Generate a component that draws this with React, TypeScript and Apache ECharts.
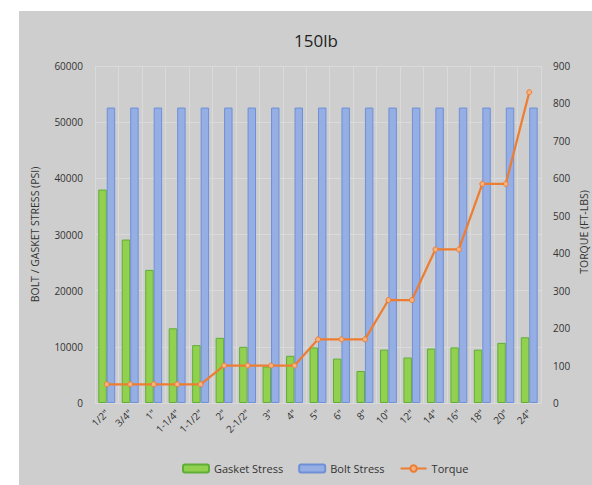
import React, { useEffect, useRef } from "react";
import * as echarts from "echarts";

const categories = ['1/2"', '3/4"', '1"', '1-1/4"', '1-1/2"', '2"', '2-1/2"', '3"', '4"', '5"', '6"', '8"', '10"', '12"', '14"', '16"', '18"', '20"', '24"'];
const gasketStress = [38000, 29100, 23700, 13300, 10300, 11600, 10000, 6500, 8400, 9900, 7900, 5700, 9500, 8100, 9700, 9900, 9500, 10700, 11700];
const boltStress = [52600, 52600, 52600, 52600, 52600, 52600, 52600, 52600, 52600, 52600, 52600, 52600, 52600, 52600, 52600, 52600, 52600, 52600, 52600];
const torque = [50, 50, 50, 50, 50, 100, 100, 100, 100, 170, 170, 170, 275, 275, 410, 410, 585, 585, 830];

const FONT = "'Open Sans', 'Noto Sans', sans-serif";
const TEXT = "#333333";

export default function App() {
  const ref = useRef<HTMLDivElement>(null);
  useEffect(() => {
    if (!ref.current) return;
    const chart = echarts.init(ref.current, undefined, { renderer: "svg" });
    chart.setOption({
      animation: false,
      backgroundColor: "#cecece",
      textStyle: { fontFamily: FONT },
      title: {
        text: "150lb",
        left: 292,
        textAlign: "center",
        top: 16,
        textStyle: { fontFamily: FONT, fontSize: 17, fontWeight: "normal", color: "#1f1f1f" },
      },
      legend: {
        left: 158,
        top: 447,
        itemWidth: 26,
        itemHeight: 8,
        itemGap: 15,
        textStyle: { fontFamily: FONT, fontSize: 11, color: TEXT },
        data: ["Gasket Stress", "Bolt Stress", "Torque"],
      },
      graphic: [
        {
          type: "text",
          x: 565,
          y: 221,
          rotation: Math.PI / 2,
          style: {
            text: "TORQUE (FT-LBS)",
            fontFamily: FONT,
            fontSize: 10.5,
            fill: TEXT,
            align: "center",
            verticalAlign: "middle",
          },
        },
      ],
      grid: { left: 76, top: 55, right: 51, bottom: 82, containLabel: false },
      xAxis: {
        type: "category",
        data: categories,
        axisLine: { show: true, lineStyle: { color: "#dadada" } },
        axisTick: { show: false },
        splitLine: { show: true, lineStyle: { color: "#dadada", width: 1 } },
        axisLabel: { rotate: 45, fontSize: 10, color: TEXT, margin: 8, interval: 0, fontFamily: FONT },
      },
      yAxis: [
        {
          type: "value",
          min: 0,
          max: 60000,
          interval: 10000,
          name: "BOLT / GASKET STRESS (PSI)",
          nameLocation: "middle",
          nameGap: 55,
          nameRotate: 90,
          nameTextStyle: { fontFamily: FONT, fontSize: 10.5, color: TEXT },
          axisLine: { show: false },
          axisTick: { show: false },
          axisLabel: { fontSize: 10, color: TEXT, margin: 12, fontFamily: FONT, formatter: (v: number) => String(v) },
          splitLine: { show: true, lineStyle: { color: "#dadada", width: 1 } },
        },
        {
          type: "value",
          min: 0,
          max: 900,
          interval: 100,
          axisLine: { show: false },
          axisTick: { show: false },
          axisLabel: { fontSize: 10, color: TEXT, margin: 12, fontFamily: FONT, formatter: (v: number) => String(v) },
          splitLine: { show: false },
        },
      ],
      series: [
        {
          name: "Gasket Stress",
          type: "bar",
          data: gasketStress,
          barGap: "0%",
          barCategoryGap: "28%",
          itemStyle: { color: "#92d050", borderColor: "#5fae38", borderWidth: 1 },
        },
        {
          name: "Bolt Stress",
          type: "bar",
          data: boltStress,
          barGap: "0%",
          barCategoryGap: "28%",
          itemStyle: { color: "#95aee3", borderColor: "#6f8fd6", borderWidth: 1 },
        },
        {
          name: "Torque",
          type: "line",
          yAxisIndex: 1,
          data: torque,
          symbol: "circle",
          symbolSize: 5,
          z: 5,
          lineStyle: { color: "#ed7d31", width: 2.25 },
          itemStyle: { color: "#f4b183", borderColor: "#ed7d31", borderWidth: 1 },
        },
      ],
    });
    return () => chart.dispose();
  }, []);
  return (
    <div style={{ position: "fixed", left: 0, top: 0, width: 592, height: 485, background: "#ffffff", overflow: "hidden" }}>
      <div ref={ref} style={{ position: "absolute", left: 19, top: 11, width: 573, height: 474 }} />
    </div>
  );
}
